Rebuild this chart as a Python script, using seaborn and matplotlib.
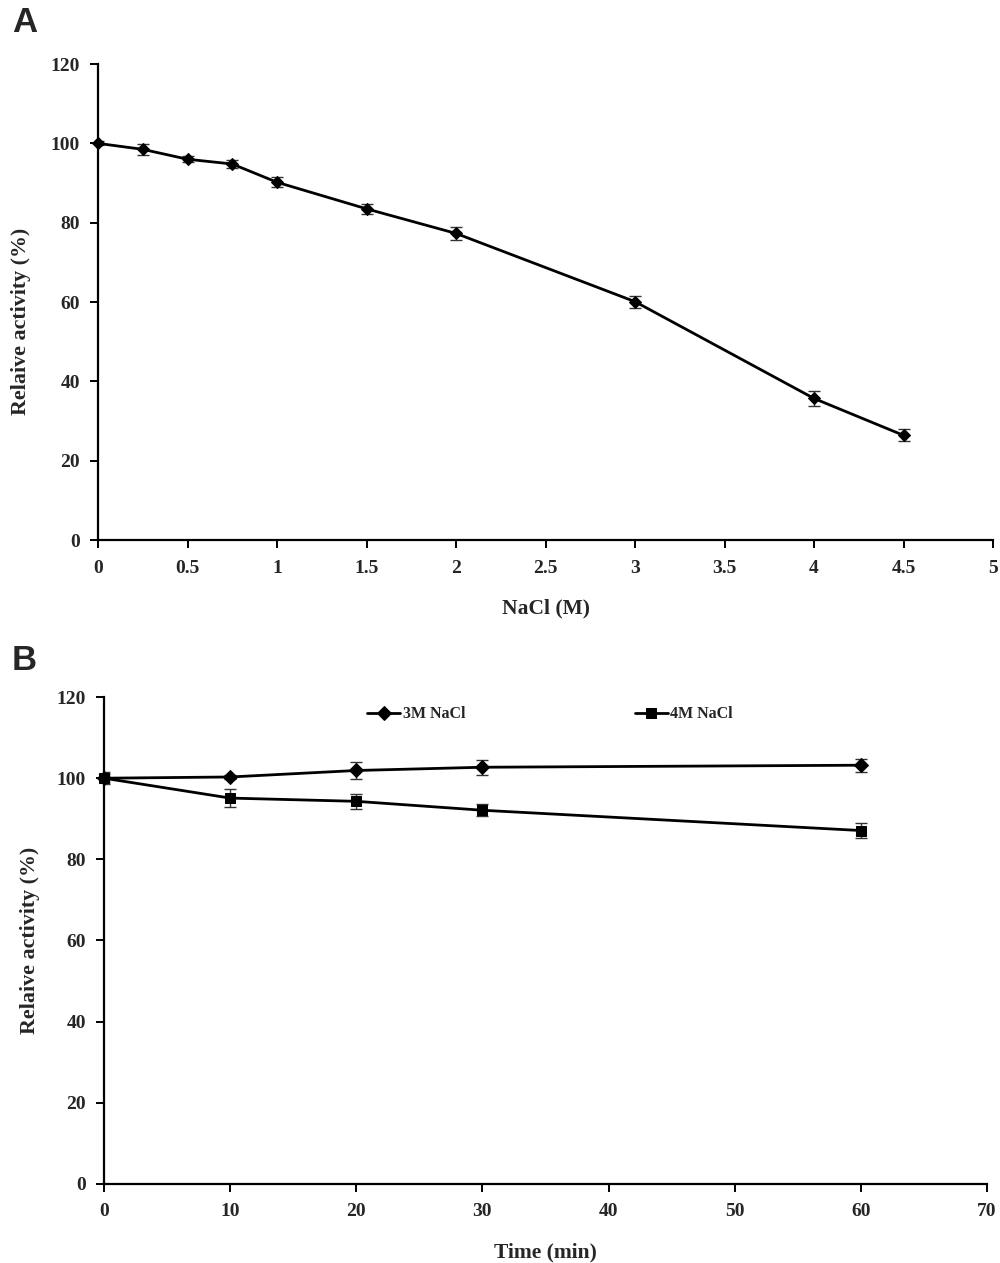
import numpy as np
import pandas as pd
import matplotlib
matplotlib.use("Agg")
import matplotlib.pyplot as plt
import seaborn as sns

# ---- data: panel A ----
nacl_m = [0, 0.25, 0.5, 0.75, 1, 1.5, 2, 3, 4, 4.5]
act_a = [100, 98.5, 96.0, 94.8, 90.2, 83.5, 77.3, 60.1, 35.7, 26.4]
err_a = [0.5, 1.4, 0.8, 1.1, 1.3, 1.2, 1.7, 1.5, 1.8, 1.5]

# ---- data: panel B ----
time_min = [0, 10, 20, 30, 60]
act_3m = [100, 100.3, 101.9, 102.7, 103.2]
err_3m = [1.5, 0.5, 2.0, 1.8, 1.6]
act_4m = [100, 95.1, 94.3, 92.1, 87.1]
err_4m = [1.0, 2.2, 1.8, 1.5, 1.8]
series_labels = ["3M NaCl", "4M NaCl"]

xticks_a = [0, 0.5, 1, 1.5, 2, 2.5, 3, 3.5, 4, 4.5, 5]
xticks_b = [0, 10, 20, 30, 40, 50, 60, 70]
yticks = [0, 20, 40, 60, 80, 100, 120]

sns.set_theme(style="ticks")
plt.rcParams['font.family'] = ['Liberation Serif', 'DejaVu Serif']
plt.rcParams['font.weight'] = 'bold'

fig = plt.figure(figsize=(10, 12.63), dpi=100)
axA = fig.add_axes([0.098, 0.5724, 0.895, 0.3769])
axB = fig.add_axes([0.104, 0.0626, 0.883, 0.3855])

def fmt_tick(v):
    return ("%g" % v)

def style_axis(ax, xticks, xlab):
    for s in ["top", "right"]:
        ax.spines[s].set_visible(False)
    for s in ["left", "bottom"]:
        ax.spines[s].set_linewidth(1.6)
        ax.spines[s].set_color("black")
    ax.set_yticks(yticks)
    ax.set_ylim(0, 120)
    ax.set_xticks(xticks)
    ax.set_xlim(xticks[0], xticks[-1])
    ax.set_xticklabels([fmt_tick(v) for v in xticks], fontsize=14, fontweight='bold')
    ax.set_yticklabels([fmt_tick(v) for v in yticks], fontsize=14, fontweight='bold')
    ax.tick_params(axis='both', direction='out', length=6, width=1.4, color='black', pad=7)
    ax.tick_params(axis='x', pad=8)
    ax.set_ylabel("Relaive activity (%)", fontsize=15.8, fontweight='bold', labelpad=12)
    ax.set_xlabel(xlab, fontsize=15.5, fontweight='bold', labelpad=16)
    for sp in ax.spines.values():
        sp.set_clip_on(False)

# Panel A
dfA = pd.DataFrame({"x": nacl_m, "y": act_a})
axA.errorbar(nacl_m, act_a, yerr=err_a, fmt='none', ecolor='#333333',
             elinewidth=1.0, capsize=4, capthick=1.0, zorder=2)
sns.lineplot(data=dfA, x="x", y="y", ax=axA, color="black", linewidth=2.0,
             marker="D", markersize=6.5, markeredgecolor="black", zorder=3, clip_on=False)
style_axis(axA, xticks_a, "NaCl (M)")
axA.yaxis.set_label_coords(-0.075, 0.46)

# Panel B
dfB = pd.DataFrame({
    "x": time_min + time_min,
    "y": act_3m + act_4m,
    "series": [series_labels[0]] * len(time_min) + [series_labels[1]] * len(time_min),
})
axB.errorbar(time_min, act_3m, yerr=err_3m, fmt='none', ecolor='#333333',
             elinewidth=1.0, capsize=4, capthick=1.0, zorder=2)
axB.errorbar(time_min, act_4m, yerr=err_4m, fmt='none', ecolor='#333333',
             elinewidth=1.0, capsize=4, capthick=1.0, zorder=2)
sns.lineplot(data=dfB, x="x", y="y", hue="series", style="series", ax=axB,
             palette=["black", "black"], markers=["D", "s"], dashes=False,
             linewidth=2.0, markersize=7.5, markeredgecolor="black", zorder=3,
             clip_on=False)
style_axis(axB, xticks_b, "Time (min)")
handles, labels = axB.get_legend_handles_labels()
axB.legend(handles, labels, loc="center", bbox_to_anchor=(0.505, 0.965), ncol=2,
           frameon=False, prop={'weight': 'bold', 'size': 11.5},
           handlelength=2.1, handletextpad=0.15, columnspacing=10.6)

fig.text(0.012, 0.982, "A", fontsize=25, fontweight='bold', family='Liberation Sans',
         ha='left', va='center')
fig.text(0.012, 0.477, "B", fontsize=25, fontweight='bold', family='Liberation Sans',
         ha='left', va='center')

fig.savefig("out.png", dpi=100, facecolor="white")
